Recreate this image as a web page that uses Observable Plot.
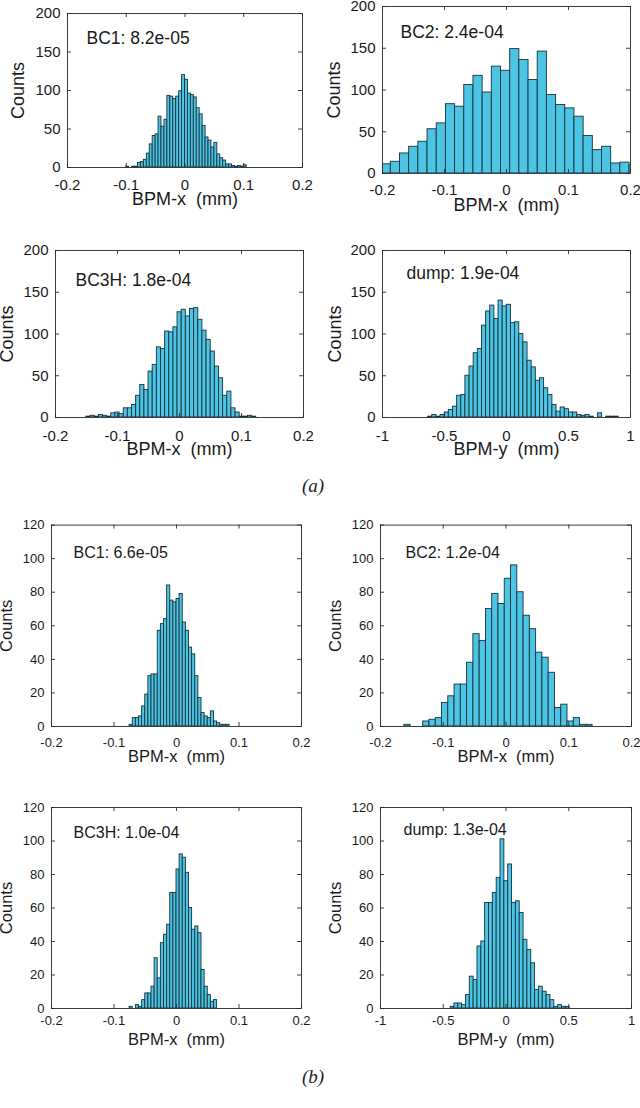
<!DOCTYPE html>
<html><head><meta charset="utf-8">
<script src="https://cdn.jsdelivr.net/npm/d3@7"></script>
<script src="https://cdn.jsdelivr.net/npm/@observablehq/plot@0.6"></script>
<style>
body{margin:0;background:#fff;}
#fig{position:relative;width:640px;height:1108px;overflow:hidden;background:#fff;}
.panel{position:absolute;}
.cap{position:absolute;font-family:"Liberation Serif","Times New Roman",serif;font-style:italic;font-size:19px;color:#222;transform:translate(-50%,-50%);white-space:nowrap;}
</style></head><body><div id="fig"></div>
<script>
// ---------- data ----------
// (a) BC1
const aBC1Counts = [1,0,1,1,6,7,10,18,30,41,43,66,53,62,93,92,89,92,99,120,114,96,94,91,77,69,54,39,35,26,32,17,12,9,4,4,2,1,2,1,3];
const aBC1Bin = [-0.1, 0.005];
// (a) BC2
const aBC2Counts = [11,14,24,32,38,53,60,83,80,106,117,97,128,123,149,136,112,146,94,82,78,68,45,28,32,12,13,10];
const aBC2Bin = [-0.2014, 0.01481];
// (a) BC3H
const aBC3HCounts = [1,2,1,3,2,1,5,6,4,11,11,15,26,39,33,55,63,84,82,103,102,108,126,129,121,130,131,117,104,93,79,61,47,26,31,11,6,1,1,2,1];
const aBC3HBin = [-0.1501, 0.00668];
// (a) dump
const aDumpCounts = [1,3,1,3,6,9,13,26,27,50,61,77,82,110,127,134,118,140,133,135,113,114,100,90,68,60,44,47,35,27,15,7,12,10,6,6,3,2,3,1,0,5,0,1,1,1];
const aDumpBin = [-0.632, 0.0334];
// (b) BC1
const bBC1Counts = [1,5,5,6,12,19,30,31,31,57,61,64,84,75,74,76,79,62,57,47,43,30,17,8,6,5,9,3,2,1,1,1];
const bBC1Bin = [-0.075, 0.005];
// (b) BC2
const bBC2Counts = [1,0,0,3,4,5,14,18,25,25,38,55,51,70,79,73,88,96,80,66,58,44,41,32,11,13,3,5,1,1];
const bBC2Bin = [-0.162, 0.01];
// (b) BC3H
const bBC3HCounts = [1,0,2,1,5,9,9,13,30,18,39,44,50,69,69,83,92,90,81,60,47,49,45,23,13,8,4,5];
const bBC3HBin = [-0.075, 0.005];
// (b) dump
const bDumpCounts = [1,3,3,2,8,19,17,37,40,63,63,69,78,101,76,86,63,64,57,41,35,27,11,13,10,8,5,1,2,1,1];
const bDumpBin = [-0.4415, 0.0306];

const annotations = ["BC1: 8.2e-05","BC2: 2.4e-04","BC3H: 1.8e-04","dump: 1.9e-04",
                     "BC1: 6.6e-05","BC2: 1.2e-04","BC3H: 1.0e-04","dump: 1.3e-04"];
const xLabels = ["BPM-x\u00a0 (mm)","BPM-y\u00a0 (mm)"];
const yLabel = "Counts";
const xTicksNarrow = [-0.2,-0.1,0,0.1,0.2];
const xTicksWide = [-1,-0.5,0,0.5,1];
const yTicksA = [0,50,100,150,200];
const yTicksB = [0,20,40,60,80,100,120];
const panelLabels = ["(a)","(b)"];

// ---------- drawing ----------
const FONT = "'Liberation Sans', Arial, Helvetica, sans-serif";
const INK = "#1a1a1a";
const FILL = "#4cc4e4";
const EDGE = "#17323a";
const fig = document.getElementById("fig");

function panel(o) {
  const [bx, by, bw, bh] = o.box;
  const [fx0, fx1, fy0, fy1] = o.frame;
  const innerW = fx1 - fx0, innerH = fy1 - fy0;
  const [start, w] = o.bin;
  const bins = o.counts.map((c, i) => ({x1: start + i * w, x2: start + (i + 1) * w, c}));
  const tl = 4;
  const chart = Plot.plot({
    width: bw, height: bh,
    marginLeft: fx0 - bx, marginRight: bx + bw - fx1,
    marginTop: fy0 - by, marginBottom: by + bh - fy1,
    x: {domain: [o.xTicks[0], o.xTicks[o.xTicks.length - 1]]},
    y: {domain: [0, o.yTicks[o.yTicks.length - 1]]},
    style: {fontFamily: FONT, fontSize: o.tickFs + "px", color: INK, background: "transparent", overflow: "visible"},
    marks: [
      Plot.rectY(bins, {x1: "x1", x2: "x2", y: "c", fill: FILL, stroke: EDGE, strokeWidth: 0.9, clip: true}),
      Plot.frame({stroke: "#2a2a2a", strokeWidth: 0.9}),
      Plot.tickY(o.yTicks, {y: d => d, stroke: "#2a2a2a", strokeWidth: 0.9, insetRight: innerW - tl}),
      Plot.tickY(o.yTicks, {y: d => d, stroke: "#2a2a2a", strokeWidth: 0.9, insetLeft: innerW - tl}),
      Plot.tickX(o.xTicks, {x: d => d, stroke: "#2a2a2a", strokeWidth: 0.9, insetTop: innerH - tl}),
      Plot.tickX(o.xTicks, {x: d => d, stroke: "#2a2a2a", strokeWidth: 0.9, insetBottom: innerH - tl}),
      Plot.axisY({ticks: o.yTicks, tickSize: 0, tickPadding: 7, tickFormat: d => String(d), label: null, fill: INK, fontSize: o.tickFs}),
      Plot.axisX({ticks: o.xTicks, tickSize: 0, tickPadding: o.xPad, tickFormat: d => String(d), label: null, fill: INK, fontSize: o.tickFs}),
      Plot.text([yLabel], {text: d => d, frameAnchor: "left", rotate: -90, dx: o.yLabDx, fontSize: o.labFs, fill: INK, textAnchor: "middle"}),
      Plot.text([o.xLabel], {text: d => d, frameAnchor: "bottom", dy: o.xLabDy, fontSize: o.labFs, fill: INK, textAnchor: "middle"}),
      Plot.text([o.annot], {text: d => d, frameAnchor: "top-left", textAnchor: "start", dx: o.annDx, dy: o.annDy, fontSize: o.annFs, fill: INK})
    ]
  });
  chart.classList.add("panel");
  chart.style.left = bx + "px";
  chart.style.top = by + "px";
  fig.appendChild(chart);
}

const A = {tickFs: 15, labFs: 18, annFs: 17.5, yTicks: yTicksA};
const B = {tickFs: 13, labFs: 16.5, annFs: 16, yTicks: yTicksB};

panel({...A, counts: aBC1Counts, bin: aBC1Bin, xTicks: xTicksNarrow, box: [0, 0, 320, 225], frame: [67, 302, 13, 167],
  xPad: 12, yLabDx: -49, xLabDy: 37, annDx: 19, annDy: 18.5, annot: annotations[0], xLabel: xLabels[0]});
panel({...A, counts: aBC2Counts, bin: aBC2Bin, xTicks: xTicksNarrow, box: [320, 0, 320, 225], frame: [382, 630, 6, 173],
  xPad: 11, yLabDx: -48, xLabDy: 37, annDx: 18, annDy: 19.5, annot: annotations[1], xLabel: xLabels[0]});
panel({...A, counts: aBC3HCounts, bin: aBC3HBin, xTicks: xTicksNarrow, box: [0, 225, 320, 250], frame: [55, 303, 250, 417],
  xPad: 12.5, yLabDx: -48, xLabDy: 37, annDx: 20, annDy: 23.5, annot: annotations[2], xLabel: xLabels[0]});
panel({...A, counts: aDumpCounts, bin: aDumpBin, xTicks: xTicksWide, box: [320, 225, 320, 250], frame: [382, 630, 250, 417],
  xPad: 13, yLabDx: -47.5, xLabDy: 37, annDx: 24, annDy: 16.5, annot: annotations[3], xLabel: xLabels[1]});
panel({...B, counts: bBC1Counts, bin: bBC1Bin, xTicks: xTicksNarrow, box: [0, 500, 320, 275], frame: [51, 301, 524.6, 726],
  xPad: 11, yLabDx: -45, xLabDy: 35, annDx: 22, annDy: 22, annot: annotations[4], xLabel: xLabels[0]});
panel({...B, counts: bBC2Counts, bin: bBC2Bin, xTicks: xTicksNarrow, box: [320, 500, 320, 275], frame: [380, 631, 524.6, 726],
  xPad: 11, yLabDx: -45, xLabDy: 35, annDx: 25, annDy: 22, annot: annotations[5], xLabel: xLabels[0]});
panel({...B, counts: bBC3HCounts, bin: bBC3HBin, xTicks: xTicksNarrow, box: [0, 780, 320, 280], frame: [51, 301, 807, 1008],
  xPad: 7, yLabDx: -45, xLabDy: 36, annDx: 22, annDy: 19, annot: annotations[6], xLabel: xLabels[0]});
panel({...B, counts: bDumpCounts, bin: bDumpBin, xTicks: xTicksWide, box: [320, 780, 320, 280], frame: [380, 631, 807, 1008],
  xPad: 7, yLabDx: -45, xLabDy: 36, annDx: 23, annDy: 16.5, annot: annotations[7], xLabel: xLabels[1]});

// sub-figure captions
[[panelLabels[0], 313, 486], [panelLabels[1], 313, 1077]].forEach(([t, x, y]) => {
  const d = document.createElement("div");
  d.className = "cap";
  d.textContent = t;
  d.style.left = x + "px";
  d.style.top = y + "px";
  fig.appendChild(d);
});
</script>
</body></html>
